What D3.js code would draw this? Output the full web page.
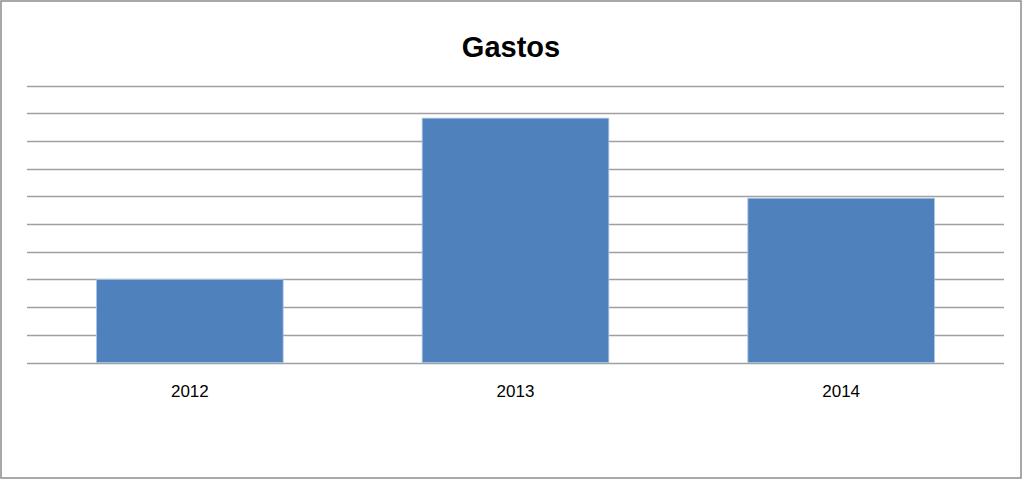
<!DOCTYPE html>
<html>
<head>
<meta charset="utf-8">
<script src="https://cdn.jsdelivr.net/npm/d3@7"></script>
<style>
  html, body { margin: 0; padding: 0; background: #fff; }
  svg { display: block; }
</style>
</head>
<body>
<svg id="chart" width="1024" height="481"></svg>
<script>
const title = "Gastos";
const categories = ["2012", "2013", "2014"];
const values = [3.0, 8.82, 5.93];
const yTicks = [0, 1, 2, 3, 4, 5, 6, 7, 8, 9, 10];

const W = 1024, H = 481;
const plot = { left: 27, right: 1004, top: 85.5, bottom: 362.5 };

const svg = d3.select("#chart");

// outer border
svg.append("rect")
  .attr("x", 1).attr("y", 1)
  .attr("width", W - 4).attr("height", H - 4)
  .attr("fill", "#fff")
  .attr("stroke", "#8c8c8c")
  .attr("stroke-width", 1.5);

const x = d3.scaleBand()
  .domain(categories)
  .range([plot.left, plot.right])
  .paddingInner(0.427)
  .paddingOuter(0.2135);

const y = d3.scaleLinear()
  .domain([0, 10])
  .range([plot.bottom, plot.top]);

// gridlines
svg.append("g")
  .selectAll("line")
  .data(yTicks)
  .join("line")
  .attr("x1", plot.left)
  .attr("x2", plot.right)
  .attr("y1", d => Math.round(y(d)) + 0.5)
  .attr("y2", d => Math.round(y(d)) + 0.5)
  .attr("stroke", "#a0a0a0")
  .attr("stroke-width", 1.6);

// bars
svg.append("g")
  .selectAll("rect")
  .data(values)
  .join("rect")
  .attr("x", (d, i) => x(categories[i]))
  .attr("y", d => y(d))
  .attr("width", x.bandwidth())
  .attr("height", d => y(0) - y(d))
  .attr("fill", "#4f81bd")
  .attr("stroke", "#a9c2e3")
  .attr("stroke-width", 0.8);

// x axis labels
const xAxis = d3.axisBottom(x).tickSize(0).tickPadding(0);
const gx = svg.append("g")
  .attr("transform", `translate(0, ${plot.bottom})`)
  .call(xAxis);
gx.select(".domain").remove();
gx.selectAll("text")
  .attr("dy", null)
  .attr("y", 34)
  .attr("fill", "#000")
  .style("font-family", "'Liberation Sans', Arial, sans-serif")
  .style("font-size", "17px");

// title
svg.append("text")
  .attr("x", 511)
  .attr("y", 56.5)
  .attr("text-anchor", "middle")
  .style("font-family", "'Liberation Sans', Arial, sans-serif")
  .style("font-weight", "bold")
  .style("font-size", "29px")
  .attr("fill", "#000")
  .text(title);
</script>
</body>
</html>
